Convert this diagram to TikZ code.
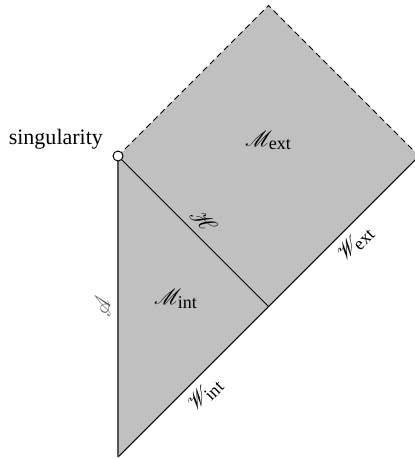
\documentclass[tikz,border=0pt]{standalone}
\usepackage{amsmath,amssymb,mathrsfs}
\usepackage{fontspec}
\setmainfont{Liberation Serif}
\usetikzlibrary{arrows.meta}
\definecolor{regG}{RGB}{192,192,192}
\definecolor{axisG}{RGB}{85,85,85}
\newcommand{\regsub}[1]{\text{\fontsize{9}{9}\selectfont #1}}

\begin{document}
\begin{tikzpicture}[x=75.25pt,y=75.25pt,font=\fontsize{11}{13}\selectfont,
  bdry/.style={line width=0.5pt,black},
  scri/.style={bdry,dash pattern=on 3pt off 2pt},
  axisline/.style={line width=1pt,axisG}]
\useasboundingbox (-0.784,-2.013) rectangle (1.967,1.0365);
\coordinate (S) at (0,0);
\coordinate (T) at (1,1);
\coordinate (R) at (2,0);
\coordinate (Bm) at (1,-1);
\coordinate (Bot) at (0,-2);
\fill[regG] (S)--(T)--(R)--(Bot)--cycle;
\draw[scri] (S)--(T)--(R);
\draw[bdry] (Bot)--(Bm) node[midway,sloped,below]{$\mathscr{W}_{\regsub{int}}$};
\draw[bdry] (Bm)--(R) node[midway,sloped,below]{$\mathscr{W}_{\regsub{ext}}$};
\draw[bdry] (S)--(Bm) node[midway,sloped,above]{$\mathscr{H}$};
\draw[axisline] (Bot)--(S) node[midway,sloped,above]{$\mathscr{A}$};
\node (mext) at (1,0.105) {$\mathscr{M}_{\regsub{ext}}$};
\node (mint) at (0.385,-0.95) {$\mathscr{M}_{\regsub{int}}$};
\node[draw,circle,fill=white,line width=0.5pt,minimum size=5pt,inner sep=0pt] (sg) at (S) {};
\node[anchor=south east,xshift=-4pt] (sing) at (S) {singularity};
\end{tikzpicture}
\end{document}
